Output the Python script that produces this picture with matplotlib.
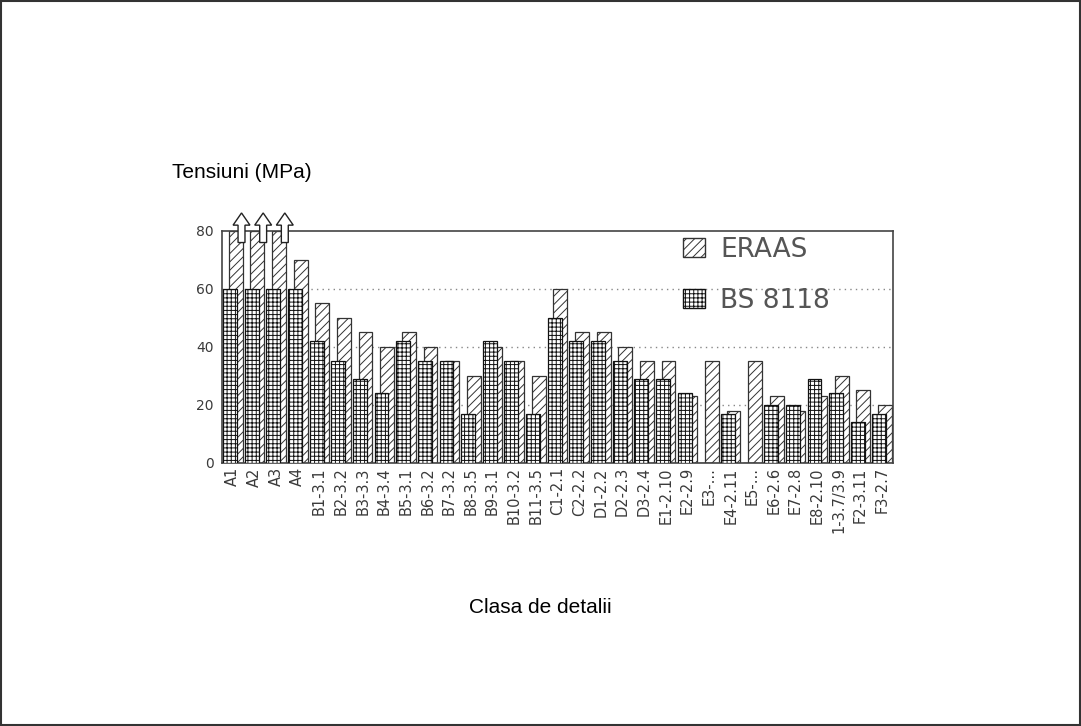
import matplotlib
matplotlib.use("Agg")
import matplotlib.pyplot as plt
from matplotlib.patches import Patch, Rectangle, FancyArrow
import numpy as np

categories = ['A1', 'A2', 'A3', 'A4', 'B1-3.1', 'B2-3.2', 'B3-3.3', 'B4-3.4',
              'B5-3.1', 'B6-3.2', 'B7-3.2', 'B8-3.5', 'B9-3.1', 'B10-3.2',
              'B11-3.5', 'C1-2.1', 'C2-2.2', 'D1-2.2', 'D2-2.3', 'D3-2.4',
              'E1-2.10', 'E2-2.9', 'E3-...', 'E4-2.11', 'E5-...', 'E6-2.6',
              'E7-2.8', 'E8-2.10', '1-3.7/3.9', 'F2-3.11', 'F3-2.7']
bs8118 = [60, 60, 60, 60, 42, 35, 29, 24, 42, 35, 35, 17, 42, 35, 17, 50,
          42, 42, 35, 29, 29, 24, 0, 17, 0, 20, 20, 29, 24, 14, 17]
# A1-A3 ERAAS values go off the scale (shown with arrows)
eraas = [80, 80, 80, 70, 55, 50, 45, 40, 45, 40, 35, 30, 40, 35, 30, 60,
         45, 45, 40, 35, 35, 23, 35, 18, 35, 23, 18, 23, 30, 25, 20]
off_scale = [0, 1, 2]
y_ticks = [0, 20, 40, 60, 80]

plt.rcParams['hatch.linewidth'] = 0.7
tick_font = dict(family='DejaVu Sans', color='#3a3a3a')

fig = plt.figure(figsize=(10.81, 7.26), dpi=100)
ax = fig.add_axes([0.2054, 0.3623, 0.6207, 0.3196])

x = np.arange(len(categories))
w = 0.64
ax.bar(x + 0.13, eraas, width=w, facecolor='white', edgecolor='#333333',
       hatch='////', linewidth=0.9, zorder=2)
ax.bar(x - 0.13, bs8118, width=w, facecolor='white', edgecolor='#111111',
       hatch='++++', linewidth=0.9, zorder=3)

for i in off_scale:
    ax.add_patch(FancyArrow(i + 0.4, 76, 0, 10.2, width=0.32, head_width=0.78,
                            head_length=4.2, length_includes_head=True,
                            facecolor='white', edgecolor='#222222', lw=1.0,
                            clip_on=False, zorder=6))

ax.set_xlim(-0.5, len(categories) - 0.5)
ax.set_ylim(0, 80)
ax.set_yticks(y_ticks)
ax.set_yticklabels([str(v) for v in y_ticks], fontsize=10, **tick_font)
ax.set_xticks(x)
ax.set_xticklabels(categories, rotation=90, fontsize=10.5, **tick_font)
ax.tick_params(axis='y', length=0, pad=6)
ax.tick_params(axis='x', length=0, pad=3)

for v in [20, 40, 60]:
    ax.axhline(v, color='#888888', linestyle=(0, (1, 3)), linewidth=1.0, zorder=1)

for s in ax.spines.values():
    s.set_color('#444444')
    s.set_linewidth(1.2)

handles = [Patch(facecolor='white', edgecolor='#333333', hatch='////', label='ERAAS'),
           Patch(facecolor='white', edgecolor='#111111', hatch='++++', label='BS 8118')]
leg = ax.legend(handles=handles, loc='upper left', bbox_to_anchor=(0.687, 0.975),
                frameon=False, fontsize=19, handlelength=0.85, handleheight=0.7,
                handletextpad=0.55, labelspacing=0.95, borderpad=0, borderaxespad=0)
for t in leg.get_texts():
    t.set_color('#555555')

fig.text(0.159, 0.762, 'Tensiuni (MPa)', fontsize=15, family='Liberation Sans',
         ha='left', va='center')
fig.text(0.5, 0.163, 'Clasa de detalii', fontsize=15, family='Liberation Sans',
         ha='center', va='center')

fig.patches.append(Rectangle((0.001, 0.001), 0.998, 0.998, transform=fig.transFigure,
                             fill=False, edgecolor='#333333', linewidth=1.5))

fig.savefig('out.png', dpi=100)
